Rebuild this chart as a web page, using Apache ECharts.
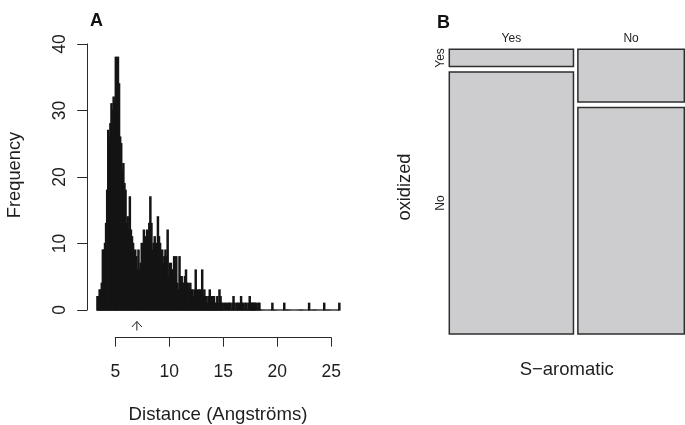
<!DOCTYPE html>
<html><head><meta charset="utf-8">
<script src="https://cdn.jsdelivr.net/npm/echarts@6/dist/echarts.min.js"></script>
<style>html,body{margin:0;padding:0;background:#fff}#c{width:685px;height:425px}</style>
</head><body><div id="c"></div>
<script>
// ---- Panel A: histogram of distances (bins of 0.1 Angstrom starting at 3.3) ----
const binStart = 3.3;
const binWidth = 0.1;
const counts = [
  2,2,3,3,4,9,9,10,13,18,          // 3.3 - 4.2
  27,26,28,31,30,32,31,38,32,38,   // 4.3 - 5.2
  34,26,25,21,22,19,18,13,14,12,   // 5.3 - 6.2
  17,12,11,10,6,9,8,6,9,6,         // 6.3 - 7.2
  7,10,9,12,8,11,12,11,13,17,      // 7.3 - 8.2
  13,9,10,11,10,9,14,11,10,8,      // 8.3 - 9.2
  9,7,8,9,8,12,5,7,7,6,            // 9.3 - 10.2
  6,8,7,8,4,3,8,5,5,4,             // 10.3 - 11.2
  4,5,6,4,4,3,4,3,3,2,             // 11.3 - 12.2
  3,6,3,2,3,3,2,6,2,3,             // 12.3 - 13.2
  2,2,1,2,3,2,1,2,2,1,             // 13.3 - 14.2
  1,2,1,3,2,1,1,0,1,1,             // 14.3 - 15.2
  0,1,1,1,0,1,2,1,0,1,             // 15.3 - 16.2
  1,1,0,2,1,1,0,1,1,0,             // 16.3 - 17.2
  1,2,1,1,1,1,1,1,0,1,             // 17.3 - 18.2
  1,0,0,0,0,0,0,0,0,0,             // 18.3 - 19.2
  0,0,1,0,0,0,0,0,0,0,             // 19.3 - 20.2
  0,0,0,1,0,0,0,0,0,0,             // 20.3 - 21.2
  0,0,0,0,0,0,0,0,0,0,             // 21.3 - 22.2
  0,0,0,0,0,0,1,0,0,0,             // 22.3 - 23.2
  0,0,0,0,0,0,0,0,0,0,             // 23.3 - 24.2
  1,0,0,0,0,0,0,0,0,0,             // 24.3 - 25.2
  0,0,0,0,1                        // 25.3 - 25.7
];
const yTicks = [0, 40, 10];         // min, max, interval
const xTicks = [5, 25, 5];          // min, max, interval
const arrowAt = [7.0];

// ---- Panel B: mosaic (S-aromatic x oxidized) ----
const colCategories = ['Yes', 'No'];   // S-aromatic
const rowCategories = ['Yes', 'No'];   // oxidized
const mosaicCounts = [[13, 197], [34, 146]]; // [column][row]

// ----------------------------------------------------------------------
const histData = counts.map((c, i) => [binStart + i * binWidth, c]);
const colTotals = mosaicCounts.map(col => col.reduce((a, b) => a + b, 0));
const grand = colTotals.reduce((a, b) => a + b, 0);
const gapX = 0.0191, gapY = 0.0193;
const mosaicCells = [];
let cx = 0;
mosaicCounts.forEach((col, c) => {
  const w = colTotals[c] / grand;
  let cy = 0;
  col.forEach((v, r) => {
    const h = v / colTotals[c];
    mosaicCells.push([cx, cx + w, cy, cy + h, c, r]);
    cy += h + gapY;
  });
  cx += w + gapX;
});

const txt = '#1e1e1e';
const font = "'Liberation Sans', Arial, Helvetica, sans-serif";
const chart = echarts.init(document.getElementById('c'), null, {renderer: 'canvas'});
chart.setOption({
  animation: false,
  backgroundColor: '#fff',
  grid: [
    {left: 87.2, top: 44, width: 262.4, height: 266},
    {left: 115.28, top: 300, width: 216, height: 37.7},
    {left: 449.3, top: 49.3, width: 235, height: 284.7}
  ],
  xAxis: [
    {gridIndex: 0, type: 'value', min: binStart - 0.9, max: binStart + counts.length * binWidth + 0.9, show: false},
    {gridIndex: 1, type: 'value', min: xTicks[0], max: xTicks[1], interval: xTicks[2],
      axisLine: {lineStyle: {color: '#2a2a2a', width: 1}},
      axisTick: {length: 9, lineStyle: {color: '#2a2a2a'}},
      axisLabel: {fontSize: 17.5, color: txt, fontFamily: font, margin: 25},
      splitLine: {show: false}},
    {gridIndex: 2, type: 'value', min: 0, max: 1 + gapX, show: false}
  ],
  yAxis: [
    {gridIndex: 0, type: 'value', min: yTicks[0], max: yTicks[1], interval: yTicks[2],
      axisLine: {show: true, lineStyle: {color: '#2a2a2a', width: 1}},
      axisTick: {show: true, length: 10, lineStyle: {color: '#2a2a2a'}},
      axisLabel: {rotate: 90, fontSize: 17.5, color: txt, fontFamily: font, margin: 18},
      splitLine: {show: false}},
    {gridIndex: 1, type: 'value', min: 0, max: 1, show: false},
    {gridIndex: 2, type: 'value', min: 0, max: 1 + gapY, inverse: true, show: false}
  ],
  graphic: [
    {type: 'text', x: 96.5, y: 21.5, style: {text: 'A', font: 'bold 18px ' + font, fill: '#111', align: 'center', verticalAlign: 'middle'}},
    {type: 'text', x: 443.5, y: 23, style: {text: 'B', font: 'bold 18px ' + font, fill: '#111', align: 'center', verticalAlign: 'middle'}},
    {type: 'text', x: 15, y: 175, rotation: Math.PI / 2, style: {text: 'Frequency', font: '18.3px ' + font, fill: txt, align: 'center', verticalAlign: 'middle'}},
    {type: 'text', x: 218, y: 415, style: {text: 'Distance (Angstr\u00f6ms)', font: '18.6px ' + font, fill: txt, align: 'center', verticalAlign: 'middle'}},
    {type: 'text', x: 405, y: 187, rotation: Math.PI / 2, style: {text: 'oxidized', font: '18.3px ' + font, fill: txt, align: 'center', verticalAlign: 'middle'}},
    {type: 'text', x: 566.7, y: 369.5, style: {text: 'S\u2212aromatic', font: '18.5px ' + font, fill: txt, align: 'center', verticalAlign: 'middle'}}
  ],
  series: [
    {
      type: 'custom', xAxisIndex: 0, yAxisIndex: 0, silent: true, clip: false,
      data: histData,
      renderItem: (params, api) => {
        const x0 = api.value(0), c = api.value(1);
        const tl = api.coord([x0, c]);
        const br = api.coord([x0 + binWidth, 0]);
        return {type: 'rect', shape: {x: tl[0], y: tl[1], width: br[0] - tl[0], height: br[1] - tl[1]},
          style: {fill: '#141414', stroke: '#141414', lineWidth: 1.4}};
      }
    },
    {
      type: 'custom', xAxisIndex: 0, yAxisIndex: 0, silent: true, clip: false,
      data: arrowAt.map(v => [v, 0]),
      renderItem: (params, api) => {
        const p = api.coord([api.value(0), 0]);
        return {type: 'group', children: [
          {type: 'polyline', shape: {points: [[p[0], p[1] + 20.5], [p[0], p[1] + 11.5]]}, style: {stroke: '#222', lineWidth: 1, fill: null}},
          {type: 'polyline', shape: {points: [[p[0] - 5, p[1] + 17], [p[0], p[1] + 11.5], [p[0] + 5, p[1] + 17]]}, style: {stroke: '#222', lineWidth: 1, fill: null}}
        ]};
      }
    },
    {
      type: 'custom', xAxisIndex: 2, yAxisIndex: 2, silent: true, clip: false,
      data: mosaicCells,
      renderItem: (params, api) => {
        const a = api.coord([api.value(0), api.value(2)]);
        const b = api.coord([api.value(1), api.value(3)]);
        const c = api.value(4), r = api.value(5);
        const children = [{type: 'rect', shape: {x: a[0], y: a[1], width: b[0] - a[0], height: b[1] - a[1]},
          style: {fill: '#cdcdd0', stroke: '#2e2e2e', lineWidth: 1.5}}];
        if (r === 0) {
          children.push({type: 'text', x: (a[0] + b[0]) / 2, y: a[1] - 11,
            style: {text: colCategories[c], font: '12px ' + font, fill: txt, align: 'center', verticalAlign: 'middle'}});
        }
        if (c === 0) {
          children.push({type: 'text', x: a[0] - 9, y: (a[1] + b[1]) / 2, rotation: Math.PI / 2,
            style: {text: rowCategories[r], font: '12px ' + font, fill: txt, align: 'center', verticalAlign: 'middle'}});
        }
        return {type: 'group', children};
      }
    }
  ]
});
</script></body></html>
